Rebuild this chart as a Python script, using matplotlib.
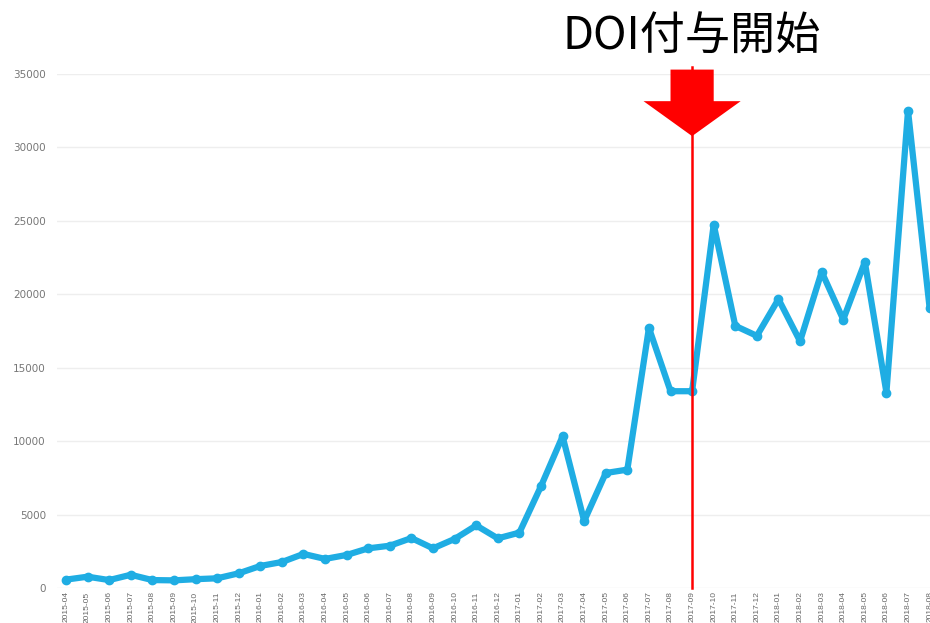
import numpy as np
import matplotlib
matplotlib.use("Agg")
import matplotlib.pyplot as plt
from matplotlib.patches import Polygon

plt.rcParams['font.family'] = ['Noto Sans CJK JP', 'DejaVu Sans']

# monthly counts, 2015-04 .. 2018-08
months = ['2015-04', '2015-05', '2015-06', '2015-07', '2015-08', '2015-09',
          '2015-10', '2015-11', '2015-12', '2016-01', '2016-02', '2016-03',
          '2016-04', '2016-05', '2016-06', '2016-07', '2016-08', '2016-09',
          '2016-10', '2016-11', '2016-12', '2017-01', '2017-02', '2017-03',
          '2017-04', '2017-05', '2017-06', '2017-07', '2017-08', '2017-09',
          '2017-10', '2017-11', '2017-12', '2018-01', '2018-02', '2018-03',
          '2018-04', '2018-05', '2018-06', '2018-07', '2018-08']
counts = [570, 770, 540, 900, 540, 520, 600, 660, 1000, 1500, 1770, 2320,
          1980, 2250, 2700, 2880, 3400, 2700, 3340, 4260, 3380, 3770, 6930,
          10330, 4560, 7830, 8060, 17710, 13400, 13400, 24750, 17850, 17170,
          19670, 16800, 21530, 18280, 22200, 13310, 32500, 19070]
yticks = [0, 5000, 10000, 15000, 20000, 25000, 30000, 35000]
event_month = '2017-09'
event_label = 'DOI付与開始'

W, H = 930, 623
step = 21.59  # px per month
fig = plt.figure(figsize=(W / 100, H / 100), dpi=100)
ax = fig.add_axes([57 / W, (H - 588) / H, (W - 57) / W, (588 - 74) / H])

x = np.arange(len(months))
ax.plot(x, counts, '-o', color='#1fade3', linewidth=4.5, markersize=6,
        solid_joinstyle='round', solid_capstyle='round', zorder=3)

ax.set_xlim(-9 / step, (W - 66) / step)
ax.set_ylim(0, 35000)
ax.set_yticks(yticks)
ax.set_yticklabels([str(v) for v in yticks])
ax.set_xticks(x)
ax.set_xticklabels(months, rotation=90, fontsize=6, color='#666666',
                   family=['Liberation Sans', 'DejaVu Sans'])
for lab in ax.get_yticklabels():
    lab.set_fontsize(7.5)
    lab.set_color('#777777')
    lab.set_family(['DejaVu Sans'])
ax.tick_params(axis='both', length=0)
ax.tick_params(axis='y', pad=8)
ax.tick_params(axis='x', pad=2.5)
ax.grid(axis='y', color='#eeeeee', linewidth=1)
ax.set_axisbelow(True)
for sp in ax.spines.values():
    sp.set_visible(False)

# event marker: vertical line + arrow + label
ex = months.index(event_month)
ax.plot([ex, ex], [0, 35450], color='red', linewidth=1.8, zorder=4, clip_on=False)
sh, hh = 1.0, 2.25
y_top, y_head, y_tip = 35300, 33150, 30770
arrow = Polygon([[ex - sh, y_top], [ex + sh, y_top], [ex + sh, y_head],
                 [ex + hh, y_head], [ex, y_tip], [ex - hh, y_head],
                 [ex - sh, y_head]], closed=True, facecolor='red',
                edgecolor='none', zorder=5, clip_on=False)
ax.add_patch(arrow)
fig.text(692 / W, 1 - 36 / H, event_label, ha='center', va='center',
         fontsize=32.5, color='black')

fig.savefig('out.png', dpi=100)
